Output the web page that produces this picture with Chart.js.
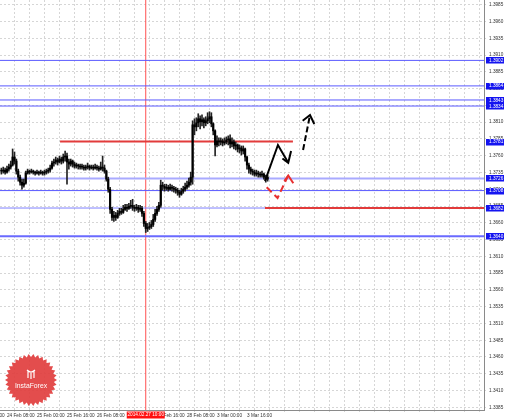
<!DOCTYPE html>
<html><head><meta charset="utf-8">
<script src="https://cdn.jsdelivr.net/npm/chart.js@4/dist/chart.umd.min.js"></script>
<style>html,body{margin:0;padding:0;background:#fff;}canvas{display:block;}</style>
</head><body>
<canvas id="c" width="510" height="419"></canvas>
<script>
// Hourly candles; bar index = hours since 24 Feb 08:00 (weekend skipped)
const barStart = -3;
const firstOpen = 1.37385;
const closes = [
1.3737,1.37385,1.37355,1.3740,1.3743,1.3746,1.3758,1.3752,1.3737,1.3728,
1.37205,1.3716,1.3719,1.3734,1.3737,1.37355,1.3737,1.37355,1.3734,1.37355,
1.3734,1.37355,1.3734,1.37355,1.3737,1.37385,1.37415,1.3749,1.37505,1.37535,
1.37505,1.3755,1.3752,1.3758,1.37595,1.37505,1.37475,1.3752,1.37475,1.37445,
1.3746,1.37445,1.3743,1.3743,1.37415,1.3743,1.37445,1.37415,1.3743,1.37415,
1.3743,1.37415,1.3740,1.3743,1.37415,1.3737,1.3725,1.3710,1.3680,1.3668,
1.3671,1.3668,1.3674,1.3677,1.36755,1.3680,1.3683,1.36815,1.36845,1.3686,
1.3683,1.36815,1.3683,1.3680,1.36815,1.3674,1.3659,1.36515,1.3653,1.36545,
1.36575,1.3665,1.3674,1.3680,1.3686,1.3716,1.37145,1.37115,1.3713,1.3710,
1.3713,1.37115,1.3710,1.37085,1.37055,1.37025,1.3707,1.3710,1.3713,1.3716,
1.37205,1.3728,1.3806,1.3803,1.3809,1.3815,1.38105,1.38135,1.3809,1.3812,
1.3815,1.3818,1.38075,1.3797,1.3776,1.3782,1.37805,1.3782,1.3779,1.37805,
1.37835,1.3785,1.37775,1.37805,1.37745,1.3776,1.3770,1.37715,1.3767,1.3770,
1.3758,1.3746,1.3740,1.3737,1.37355,1.37325,1.3734,1.37325,1.3731,1.37325,
1.3728,1.3725,1.3728];
const highs = [
1.37415,1.3743,1.37415,1.37445,1.37475,1.3752,1.3770,1.37655,1.3755,1.3740,
1.3731,1.3725,1.3725,1.3737,1.3740,1.37385,1.3740,1.37385,1.3737,1.37385,
1.3737,1.37385,1.3737,1.37385,1.3740,1.37415,1.3746,1.3752,1.3755,1.3758,
1.37565,1.37595,1.3758,1.37625,1.3767,1.3764,1.3755,1.3755,1.37535,1.37505,
1.3749,1.37475,1.37475,1.37475,1.3746,1.3746,1.3749,1.3746,1.3746,1.3746,
1.37475,1.3746,1.37445,1.37505,1.37595,1.3746,1.37385,1.3728,1.3713,1.3683,
1.3677,1.36755,1.36785,1.36815,1.36815,1.3686,1.36875,1.36875,1.3689,1.36935,
1.3695,1.3686,1.36875,1.3686,1.3686,1.36845,1.3677,1.3662,1.3659,1.36605,
1.36635,1.36725,1.3680,1.36845,1.36905,1.37235,1.37205,1.37175,1.37175,1.3716,
1.37175,1.3716,1.37145,1.3713,1.37115,1.37085,1.37115,1.37145,1.3719,1.3722,
1.37265,1.37355,1.3812,1.3815,1.38165,1.38225,1.38195,1.3821,1.38165,1.3818,
1.3824,1.38255,1.3824,1.3809,1.37985,1.37895,1.37865,1.37865,1.3785,1.37865,
1.3788,1.37895,1.3791,1.37865,1.37835,1.37805,1.37775,1.3776,1.37745,1.37745,
1.37715,1.37595,1.3749,1.3743,1.3740,1.37385,1.37385,1.3737,1.37355,1.3737,
1.3734,1.3731,1.3731];
const lows = [
1.37325,1.3734,1.37325,1.3734,1.3737,1.3740,1.37445,1.37475,1.37325,1.3722,
1.3716,1.3710,1.3713,1.37175,1.37325,1.37325,1.3734,1.37325,1.3731,1.37325,
1.3731,1.37325,1.3731,1.3731,1.37325,1.3734,1.37355,1.3740,1.37445,1.37475,
1.3746,1.3749,1.37475,1.3749,1.3752,1.37175,1.3740,1.37445,1.3743,1.37415,
1.37415,1.3740,1.3740,1.3740,1.37385,1.37385,1.3740,1.37385,1.3740,1.37385,
1.3740,1.37385,1.3737,1.37385,1.3737,1.3734,1.3722,1.37055,1.3674,1.36635,
1.3662,1.36635,1.36665,1.3671,1.36725,1.3674,1.36785,1.3677,1.3680,1.36815,
1.36785,1.3677,1.36785,1.36755,1.3677,1.36695,1.36545,1.36455,1.3647,1.3650,
1.36515,1.36545,1.3662,1.3671,1.3677,1.3683,1.37085,1.3707,1.37085,1.3707,
1.37085,1.3707,1.37055,1.3704,1.3701,1.3698,1.3701,1.3704,1.3707,1.3710,
1.3713,1.3716,1.37175,1.3791,1.3797,1.3803,1.3800,1.38045,1.38015,1.38045,
1.38075,1.3809,1.3803,1.3791,1.37595,1.3773,1.37745,1.3776,1.37745,1.3776,
1.37775,1.3776,1.37715,1.3773,1.3770,1.37685,1.37655,1.3764,1.3761,1.37625,
1.3752,1.3740,1.3734,1.37325,1.3731,1.37295,1.37295,1.3728,1.3728,1.3728,
1.3725,1.37205,1.3722];

// Axes
const yTickValues = [1.3385,1.3410,1.3435,1.3460,1.3485,1.3510,1.3535,1.3560,1.3585,1.3610,1.3635,1.3660,1.3685,1.3710,1.3735,1.3760,1.3785,1.3810,1.3835,1.3860,1.3885,1.3910,1.3935,1.3960,1.3985];
const xGridHours = [-16,-8,0,8,16,24,32,40,48,56,64,72,80,88,96,104,112,120,128,136,144,152,160,168,176,184,192,200,208,216,224,232,240,248];
const xLabelHours = [-16,0,16,32,48,64,80,96,112,128];
const xLabelTexts = ['23 Feb 16:00','24 Feb 08:00','25 Feb 00:00','25 Feb 16:00','26 Feb 08:00','27 Feb 00:00','27 Feb 16:00','28 Feb 08:00','3 Mar 00:00','3 Mar 16:00'];
const cursorHour = 74;
const cursorLabel = '2014.02.27 10:00';

// Horizontal levels
const blueLevels = [1.3902,1.3864,1.3843,1.3834,1.3726,1.3708,1.3682,1.3640];
const blueColors = ['#5a5aff','#5a5aff','#5a5aff','#5a5aff','#a9aaff','#5a5aff','#7f80ff','#6a6aff'];
const blueWidths = [1,1,1,1,2,1,1,2];
const redLevels = [1.3781,1.3682];
const redFrom = [28.3,137.6];
const redTo = [152.5,260];
const labelLevels = [1.3902,1.3864,1.3843,1.3834,1.3781,1.3726,1.3708,1.3682,1.3640];

// Forecast arrows (hour index, price)
const blackPathX = [137.6,144.5,150.0];
const blackPathY = [1.37223,1.37759,1.37495];
const blackHeadX = [146.9,150.0,151.5];
const blackHeadY = [1.37558,1.37495,1.3767];
const blackDashX = [157.9,161.6];
const blackDashY = [1.37685,1.38206];
const blackDashHeadX = [157.7,161.6,163.9];
const blackDashHeadY = [1.38121,1.38206,1.38072];
const redPathX = [138.5,144.3,150.0];
const redPathY = [1.37129,1.3697,1.37305];
const redHeadX = [147.9,150.0,152.7];
const redHeadY = [1.37223,1.37305,1.37188];

const Y_MIN = 1.3381, Y_MAX = 1.3992, X_MIN = -3.73, X_MAX = 254.4;

const n = Math.min(closes.length, highs.length, lows.length);
const candles = [];
for (let k = 0; k < n; k++) {
  const o = k ? closes[k-1] : firstOpen;
  candles.push({x: barStart + k, o, h: highs[k], l: lows[k], c: closes[k]});
}
const pts = (xs, ys) => xs.map((x, k) => ({x, y: ys[k]}));
const lineDs = (data, color, width, dash, order) => ({type: 'line', data, borderColor: color, borderWidth: width, borderDash: dash || [], pointRadius: 0, fill: false, tension: 0, order: order || 0, borderCapStyle: 'butt'});

const datasets = [];
blueLevels.forEach((v, k) => datasets.push(lineDs([{x: -10, y: v}, {x: 300, y: v}], blueColors[k], blueWidths[k], null, 5)));
redLevels.forEach((v, k) => datasets.push(lineDs([{x: redFrom[k], y: v}, {x: redTo[k], y: v}], '#e23b3b', 2, null, 4)));
datasets.push(lineDs([{x: cursorHour, y: Y_MIN - 1}, {x: cursorHour, y: Y_MAX + 1}], '#ff5050', 1, null, 6));
datasets.push({type: 'bar', data: candles.map(d => ({x: d.x, y: [d.l, d.h]})), backgroundColor: '#222', barThickness: 1, grouped: false, order: 3});
datasets.push({type: 'bar', data: candles.map(d => ({x: d.x, y: [Math.min(d.o, d.c), Math.max(d.o, d.c)]})), backgroundColor: '#000', barThickness: 1.5, minBarLength: 1, grouped: false, order: 2});
datasets.push(lineDs(pts(blackPathX, blackPathY), '#000', 2, null, 1));
datasets.push(lineDs(pts(blackHeadX, blackHeadY), '#000', 2, null, 1));
datasets.push(lineDs(pts(blackDashX, blackDashY), '#000', 2, [6, 3], 1));
datasets.push(lineDs(pts(blackDashHeadX, blackDashHeadY), '#000', 2, null, 1));
datasets.push(lineDs(pts(redPathX, redPathY), '#e83030', 2, [7, 4], 1));
datasets.push(lineDs(pts(redHeadX, redHeadY), '#e83030', 2, null, 1));

const FONT = {family: 'Liberation Sans', size: 4.7};

const decor = {
  id: 'decor',
  beforeDatasetsDraw(chart) {
    const ctx = chart.ctx, a = chart.chartArea;
    const cx = a.left + 31, cy = a.bottom - 30, teeth = 34;
    ctx.save();
    ctx.fillStyle = 'rgba(225,62,62,0.92)';
    ctx.beginPath();
    for (let k = 0; k < teeth * 2; k++) {
      const r = k % 2 ? 23 : 26;
      const ang = k * Math.PI / teeth;
      ctx.lineTo(cx + r * Math.cos(ang), cy + r * Math.sin(ang));
    }
    ctx.closePath(); ctx.fill();
    ctx.fillStyle = '#fff';
    ctx.font = '6.8px "Liberation Sans"';
    ctx.textAlign = 'center'; ctx.textBaseline = 'middle';
    ctx.fillText('InstaForex', cx, cy + 6);
    ctx.strokeStyle = '#fff'; ctx.lineWidth = 1.2;
    ctx.beginPath();
    ctx.moveTo(cx - 3, cy - 9); ctx.lineTo(cx - 3, cy - 2);
    ctx.moveTo(cx, cy - 7); ctx.lineTo(cx, cy - 1);
    ctx.moveTo(cx + 3, cy - 9); ctx.lineTo(cx + 3, cy - 2);
    ctx.moveTo(cx - 4, cy - 10); ctx.quadraticCurveTo(cx, cy - 6, cx + 4, cy - 10);
    ctx.stroke();
    ctx.restore();
  },
  afterDraw(chart) {
    const ctx = chart.ctx, a = chart.chartArea, ys = chart.scales.y, xs = chart.scales.x;
    ctx.save();
    ctx.font = '4.7px "Liberation Sans"';
    ctx.textBaseline = 'middle';
    labelLevels.forEach(v => {
      const py = ys.getPixelForValue(v);
      ctx.fillStyle = '#1414f0';
      ctx.fillRect(a.right + 2, Math.round(py) - 3, 18, 6.5);
      ctx.fillStyle = '#fff';
      ctx.textAlign = 'left';
      ctx.fillText(v.toFixed(4), a.right + 5, py + 0.3);
    });
    const px = xs.getPixelForValue(cursorHour);
    ctx.fillStyle = '#ff1010';
    ctx.fillRect(px - 19, a.bottom + 1.5, 38, 7);
    ctx.fillStyle = '#fff';
    ctx.textAlign = 'center';
    ctx.fillText(cursorLabel, px, a.bottom + 5.2);
    ctx.restore();
  }
};

new Chart(document.getElementById('c'), {
  type: 'bar',
  data: {datasets},
  plugins: [decor],
  options: {
    responsive: false, animation: false, devicePixelRatio: 1,
    layout: {padding: 0},
    plugins: {legend: {display: false}, tooltip: {enabled: false}},
    scales: {
      x: {
        type: 'linear', min: X_MIN, max: X_MAX, offset: false,
        afterBuildTicks: s => { s.ticks = xGridHours.map(v => ({value: v})); },
        afterFit: s => { s.height = 9; s.paddingLeft = 0; s.paddingRight = 0; },
        grid: {color: '#d6d6d6', lineWidth: 1, tickLength: 2, drawTicks: true},
        border: {display: true, color: '#8a8a8a', width: 1, dash: [2, 2]},
        ticks: {
          autoSkip: false, maxRotation: 0, minRotation: 0, align: 'start', padding: 0.5,
          color: '#333', font: FONT,
          callback: v => { const k = xLabelHours.indexOf(v); return k >= 0 ? xLabelTexts[k] : ''; }
        }
      },
      y: {
        type: 'linear', position: 'right', min: Y_MIN, max: Y_MAX,
        afterBuildTicks: s => { s.ticks = yTickValues.map(v => ({value: v})); },
        afterFit: s => { s.width = 26; s.paddingTop = 0; s.paddingBottom = 0; },
        grid: {color: '#d6d6d6', lineWidth: 1, tickLength: 2},
        border: {display: true, color: '#8a8a8a', width: 1, dash: [2, 2]},
        ticks: {autoSkip: false, padding: 3, color: '#333', font: FONT, callback: v => Number(v).toFixed(4)}
      }
    }
  }
});
</script>
</body></html>
